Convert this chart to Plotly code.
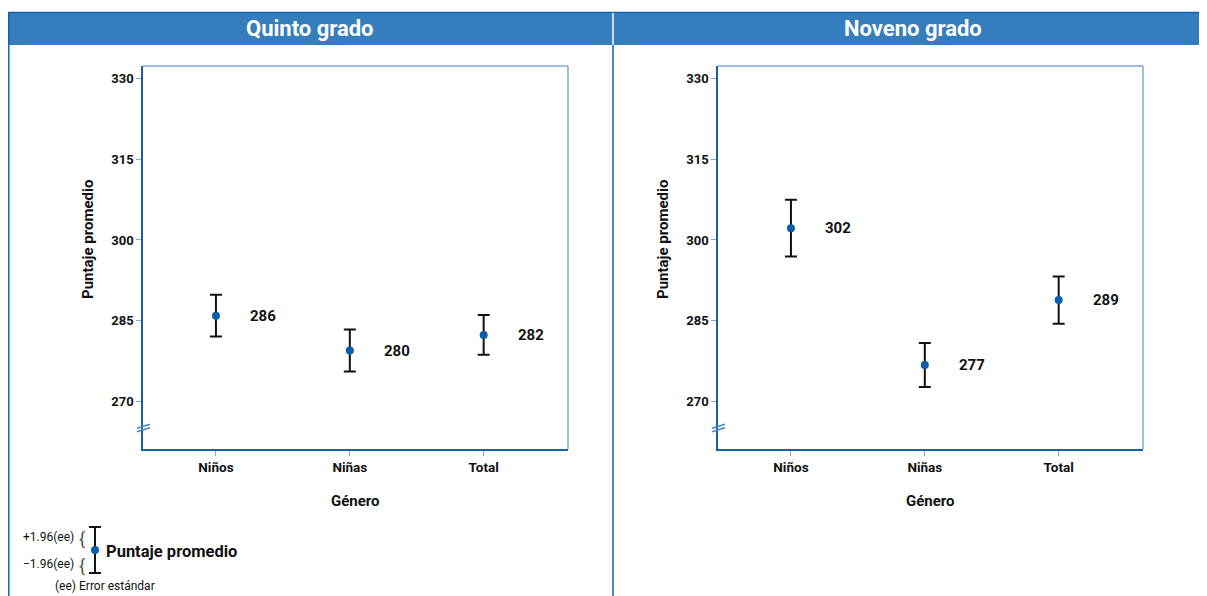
import plotly.graph_objects as go

# Datos
categorias = ["Niños", "Niñas", "Total"]

quinto_media = [285.9, 279.4, 282.3]
quinto_ee196 = [3.9, 3.9, 3.7]
quinto_etiquetas = ["286", "280", "282"]

noveno_media = [302.2, 276.7, 288.8]
noveno_ee196 = [5.3, 4.1, 4.4]
noveno_etiquetas = ["302", "277", "289"]

y_ticks = [270, 285, 300, 315, 330]

# la página añade 8 px de margen: la figura ocupa el resto de la ventana
OFF = 8
W, H = 1207 - OFF, 596 - OFF
FONT = "Roboto, Liberation Sans, sans-serif"
AZUL = "#357ebd"
AZUL_OSC = "#1b5fab"
AZUL_CLARO = "#7fa9d6"
PUNTO = "#0b5cab"


def px(x):
    return (x - OFF) / W


def py(y):
    return 1 - (y - OFF) / H


fig = go.Figure()

paneles = [
    ("x", "y", quinto_media, quinto_ee196, quinto_etiquetas),
    ("x2", "y2", noveno_media, noveno_ee196, noveno_etiquetas),
]

for xa, ya, media, ee, etiquetas in paneles:
    fig.add_trace(go.Scatter(
        x=categorias, y=media, xaxis=xa, yaxis=ya, mode="markers",
        marker=dict(color=PUNTO, size=8),
        error_y=dict(type="data", array=ee, color="#111111", thickness=2, width=6),
        hoverinfo="skip", showlegend=False,
    ))
    for c, m, t in zip(categorias, media, etiquetas):
        fig.add_annotation(x=c, y=m, xref=xa, yref=ya, text=t, showarrow=False,
                           xanchor="left", xshift=32,
                           font=dict(family=FONT, size=15, color="#111111", weight="bold"))

axis_common = dict(showgrid=False, zeroline=False, showline=True, linecolor=AZUL_OSC,
                   linewidth=1.5, ticks="outside", ticklen=5, tickcolor=AZUL_CLARO)
fuente_y = dict(family=FONT, size=13, color="#111111", weight="bold")
fuente_x = dict(family=FONT, size=13.5, color="#111111", weight="bold")

dom_y = [py(449), py(66)]
fig.update_layout(
    width=W, height=H, margin=dict(l=0, r=0, t=0, b=0),
    paper_bgcolor="white", plot_bgcolor="white", showlegend=False,
    xaxis=dict(domain=[px(143), px(568)], anchor="y", type="category",
               range=[-0.545, 2.63], tickfont=fuente_x, **axis_common),
    yaxis=dict(domain=dom_y, anchor="x", range=[261.06, 332.4], tickvals=y_ticks,
               tickfont=fuente_y, **axis_common),
    xaxis2=dict(domain=[px(718), px(1143)], anchor="y2", type="category",
                range=[-0.545, 2.63], tickfont=fuente_x, **axis_common),
    yaxis2=dict(domain=dom_y, anchor="x2", range=[261.06, 332.4], tickvals=y_ticks,
                tickfont=fuente_y, **axis_common),
)

shapes = []
# Encabezado azul
shapes.append(dict(type="rect", xref="paper", yref="paper", x0=0, x1=1,
                   y0=py(45), y1=py(12), fillcolor=AZUL, line=dict(width=0), layer="below"))
shapes.append(dict(type="line", xref="paper", yref="paper", x0=0, x1=1,
                   y0=py(12.5), y1=py(12.5), line=dict(color=AZUL_OSC, width=1.5)))
# Líneas verticales del marco
shapes.append(dict(type="line", xref="paper", yref="paper", x0=px(8.8), x1=px(8.8),
                   y0=0, y1=py(12), line=dict(color=AZUL_OSC, width=1.5)))
shapes.append(dict(type="line", xref="paper", yref="paper", x0=px(613), x1=px(613),
                   y0=0, y1=py(45), line=dict(color=AZUL_OSC, width=1.5)))
shapes.append(dict(type="line", xref="paper", yref="paper", x0=px(613), x1=px(613),
                   y0=py(45), y1=py(13), line=dict(color="white", width=1.5)))

for x0, x1 in [(143, 568), (718, 1143)]:
    # borde superior y derecho del área (más claro)
    shapes.append(dict(type="line", xref="paper", yref="paper", x0=px(x0), x1=px(x1),
                       y0=py(66), y1=py(66), line=dict(color=AZUL_CLARO, width=1.5)))
    shapes.append(dict(type="line", xref="paper", yref="paper", x0=px(x1), x1=px(x1),
                       y0=py(449), y1=py(66), line=dict(color=AZUL_CLARO, width=1.5)))
    # símbolo de corte del eje
    for dy in (-1.8, 1.8):
        shapes.append(dict(type="line", xref="paper", yref="paper",
                           x0=px(x0 - 6), x1=px(x0 + 7),
                           y0=py(430 + dy), y1=py(426 + dy),
                           line=dict(color="#4a86c5", width=1.5)))

# Leyenda (glifo de barra de error)
shapes.append(dict(type="line", xref="paper", yref="paper", x0=px(95), x1=px(95),
                   y0=py(573), y1=py(527), line=dict(color="#111111", width=2)))
for yy in (527, 573):
    shapes.append(dict(type="line", xref="paper", yref="paper", x0=px(89), x1=px(101),
                       y0=py(yy), y1=py(yy), line=dict(color="#111111", width=2)))
shapes.append(dict(type="circle", xref="paper", yref="paper", x0=px(91), x1=px(99),
                   y0=py(554), y1=py(546), fillcolor=PUNTO, line=dict(color=PUNTO, width=0)))
fig.update_layout(shapes=shapes)


def texto(x, y, t, size, bold=False, color="#111111", anchor="center", angle=0):
    fig.add_annotation(x=px(x), y=py(y), xref="paper", yref="paper", text=t,
                       showarrow=False, xanchor=anchor, yanchor="middle", textangle=angle,
                       font=dict(family=FONT, size=size, color=color,
                                 weight="bold" if bold else "normal"))


texto(310, 29, "Quinto grado", 22, bold=True, color="white")
texto(913, 29, "Noveno grado", 22, bold=True, color="white")

for cx, ax in [(88, 143), (663, 718)]:
    texto(cx, 240, "Puntaje promedio", 15, bold=True, angle=-90)
    texto(ax + 212.5, 501, "Género", 15, bold=True)

texto(76, 537, "+1.96(ee)", 12, anchor="right")
texto(76, 564, "\u22121.96(ee)", 12, anchor="right")
texto(82, 538, "{", 18, color="#555555")
texto(82, 565, "{", 18, color="#555555")
texto(104, 551, "Puntaje promedio", 16.5, bold=True, anchor="left")
texto(53, 586, "(ee) Error estándar", 12, anchor="left")

fig.write_html("out.html")
